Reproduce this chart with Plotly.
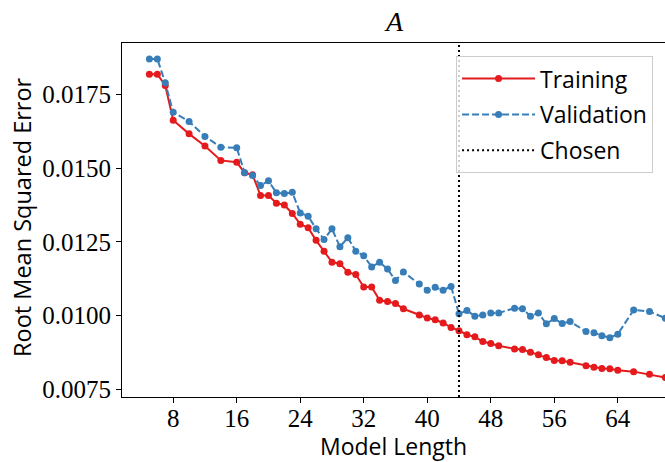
import plotly.graph_objects as go

model_length = [5, 6, 7, 8, 10, 12, 14, 16, 17, 18, 19, 20, 21, 22, 23, 24, 25, 26, 27, 28,
                29, 30, 31, 32, 33, 34, 35, 36, 37, 39, 40, 41, 42, 43, 44, 45, 46, 47, 48, 49,
                51, 52, 53, 54, 55, 56, 57, 58, 60, 61, 62, 63, 64, 66, 68, 70]

training = [0.01818, 0.01818, 0.01780, 0.01662, 0.01616, 0.01575, 0.01526, 0.01520, 0.01484, 0.01477,
            0.01407, 0.01407, 0.01381, 0.01375, 0.01346, 0.01310, 0.01298, 0.01255, 0.01218, 0.01181,
            0.01176, 0.01147, 0.01139, 0.01097, 0.01097, 0.01052, 0.01048, 0.01041, 0.01023, 0.01002,
            0.00992, 0.00986, 0.00975, 0.00960, 0.00949, 0.00935, 0.00928, 0.00912, 0.00905, 0.00898,
            0.00887, 0.00885, 0.00876, 0.00867, 0.00858, 0.00848, 0.00847, 0.00842, 0.00830, 0.00825,
            0.00821, 0.00820, 0.00815, 0.00810, 0.00801, 0.00790]

validation = [0.01870, 0.01870, 0.01789, 0.01689, 0.01658, 0.01607, 0.01571, 0.01569, 0.01484, 0.01475,
              0.01441, 0.01457, 0.01416, 0.01414, 0.01418, 0.01348, 0.01337, 0.01294, 0.01258, 0.01294,
              0.01233, 0.01264, 0.01218, 0.01203, 0.01165, 0.01181, 0.01158, 0.01119, 0.01148, 0.01107,
              0.01086, 0.01096, 0.01086, 0.01099, 0.01006, 0.01017, 0.00998, 0.01002, 0.01009, 0.01009,
              0.01025, 0.01023, 0.00998, 0.01009, 0.00972, 0.00990, 0.00973, 0.00980, 0.00946, 0.00942,
              0.00932, 0.00925, 0.00937, 0.01019, 0.01014, 0.00991]

chosen = 44

x_ticks = [8, 16, 24, 32, 40, 48, 56, 64]
y_ticks = [0.0075, 0.0100, 0.0125, 0.0150, 0.0175]
y_tick_labels = ["0.0075", "0.0100", "0.0125", "0.0150", "0.0175"]

x_range = [1.55, 69.95]
y_range = [0.00724, 0.01924]

SERIF = "Liberation Serif"
SANS = "Open Sans"

W, H = 665, 462
L, R, T, B = 122, 0, 43, 65

fig = go.Figure()
fig.add_trace(go.Scatter(
    x=model_length, y=training, name="Training", mode="lines+markers",
    legendgroup="a",
    line=dict(color="#e41a1c", width=2),
    marker=dict(color="#e41a1c", size=7),
))
fig.add_trace(go.Scatter(
    x=model_length, y=validation, name="Validation", mode="lines+markers",
    legendgroup="b",
    line=dict(color="#377eb8", width=2, dash="7px,3px"),
    marker=dict(color="#377eb8", size=7),
))
fig.add_trace(go.Scatter(
    x=[chosen, chosen], y=y_range, name="Chosen", mode="lines",
    legendgroup="c",
    line=dict(color="black", width=2, dash="2px,3px"),
))

fig.update_layout(
    width=W, height=H,
    margin=dict(l=L, r=R, t=T, b=B),
    paper_bgcolor="white", plot_bgcolor="white",
    legend=dict(
        x=0.978, y=0.963, xanchor="right", yanchor="top",
        bgcolor="rgba(255,255,255,0.8)", bordercolor="#cccccc", borderwidth=1,
        font=dict(family=SANS, size=23, color="black"),
        itemwidth=73, tracegroupgap=3,
    ),
    showlegend=True,
    annotations=[
        dict(text="<i>A</i>", xref="paper", yref="paper",
             x=0.5, y=1 + 21 / (H - T - B), xanchor="center", yanchor="middle",
             showarrow=False, font=dict(family=SERIF, size=28, color="black")),
        dict(text="Model Length", xref="paper", yref="paper",
             x=(393 - L) / (W - L - R), y=-(446 - (H - B)) / (H - T - B),
             xanchor="center", yanchor="middle", showarrow=False,
             font=dict(family=SANS, size=23, color="black")),
        dict(text="Root Mean Squared Error", xref="paper", yref="paper",
             x=-(L - 22) / (W - L - R), y=1 - (217 - T) / (H - T - B),
             xanchor="center", yanchor="middle", textangle=-90, showarrow=False,
             font=dict(family=SANS, size=23.5, color="black")),
    ],
)

fig.update_xaxes(
    range=x_range, tickvals=x_ticks, ticktext=[str(t) for t in x_ticks],
    showgrid=False, zeroline=False, automargin=False,
    showline=True, linecolor="black", linewidth=1.2, mirror=True,
    ticks="outside", ticklen=5, tickwidth=1.2, tickcolor="black",
    ticklabelstandoff=-6,
    tickfont=dict(family=SERIF, size=25, color="black"),
)
fig.update_yaxes(
    range=y_range, tickvals=y_ticks, ticktext=y_tick_labels,
    showgrid=False, zeroline=False, automargin=False,
    showline=True, linecolor="black", linewidth=1.2, mirror=False,
    ticks="outside", ticklen=5, tickwidth=1.2, tickcolor="black",
    tickfont=dict(family=SERIF, size=25, color="black"),
)

fig.write_html("out.html", config={"displayModeBar": False},
               post_script="document.body.style.margin='0px';")
